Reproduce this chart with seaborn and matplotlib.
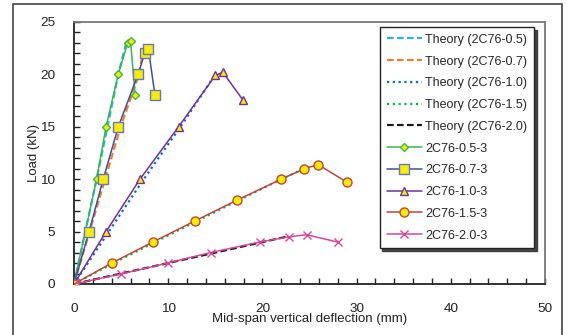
import matplotlib
matplotlib.use('Agg')
import matplotlib.pyplot as plt
import seaborn as sns
from matplotlib.patches import Rectangle
from matplotlib.ticker import MultipleLocator

# Theory curves (deflection mm, load kN)
th05_x = [0, 2.4, 4.7, 5.6]
th05_y = [0, 10, 20, 23.2]
th07_x = [0, 3.3, 4.95, 6.9, 7.3]
th07_y = [0, 10, 15, 20, 22.0]
th10_x = [0, 3.7, 7.4, 11.3, 15.0]
th10_y = [0, 5, 10, 15, 20]
th15_x = [0, 4.2, 8.6, 13.0, 17.5, 22.0, 24.4]
th15_y = [0, 2, 4, 6, 8, 10, 11]
th20_x = [0, 5.0, 10.0, 15.0, 20.0, 22.5]
th20_y = [0, 1.0, 2.0, 3.0, 4.0, 4.5]

# Test results
ex05_x = [0, 2.4, 3.4, 4.7, 5.7, 6.0, 6.5]
ex05_y = [0, 10, 15, 20, 23.0, 23.2, 18.0]
ex07_x = [0, 1.6, 3.1, 4.7, 6.8, 7.5, 7.9, 8.6]
ex07_y = [0, 5, 10, 15, 20, 22.0, 22.4, 18.0]
ex10_x = [0, 3.4, 7.0, 11.1, 15.0, 15.8, 17.9]
ex10_y = [0, 5, 10, 15, 19.9, 20.2, 17.6]
ex15_x = [0, 4.0, 8.35, 12.8, 17.3, 22.0, 24.45, 25.9, 29.0]
ex15_y = [0, 2.0, 4.0, 6.0, 8.0, 10.0, 11.0, 11.4, 9.7]
ex20_x = [0, 4.95, 9.95, 14.5, 19.7, 22.8, 24.7, 28.0]
ex20_y = [0, 0.95, 2.0, 3.0, 4.0, 4.5, 4.7, 4.0]

sns.set_style("ticks")
plt.rcParams['font.family'] = ['Liberation Sans', 'DejaVu Sans']

fig = plt.figure(figsize=(5.74, 3.35), dpi=100)
ax = fig.add_axes([74 / 574, 1 - 284 / 335, (545 - 74) / 574, (284 - 22) / 335])

theory = [
    (th05_x, th05_y, "Theory (2C76-0.5)", "#29b0e6", (0, (3, 1.5))),
    (th07_x, th07_y, "Theory (2C76-0.7)", "#ed7d31", (0, (3, 1.5))),
    (th10_x, th10_y, "Theory (2C76-1.0)", "#0a6cc4", (0, (1, 1.6))),
    (th15_x, th15_y, "Theory (2C76-1.5)", "#12b04c", (0, (1, 1.6))),
    (th20_x, th20_y, "Theory (2C76-2.0)", "#1a1a1a", (0, (3, 1.5))),
]
for xs, ys, lab, col, ls in theory:
    sns.lineplot(x=xs, y=ys, ax=ax, color=col, linestyle=ls, linewidth=1.6,
                 sort=False, estimator=None, label=lab, zorder=2)

tests = [
    (ex05_x, ex05_y, "2C76-0.5-3", "#3cb550", "D", 4.5, "#3cb550"),
    (ex07_x, ex07_y, "2C76-0.7-3", "#3d4fa3", "s", 6.5, "#6477c0"),
    (ex10_x, ex10_y, "2C76-1.0-3", "#7030a0", "^", 6, "#7030a0"),
    (ex15_x, ex15_y, "2C76-1.5-3", "#c0463a", "o", 6.5, "#c0463a"),
    (ex20_x, ex20_y, "2C76-2.0-3", "#d9449f", "x", 6, "#d9449f"),
]
for xs, ys, lab, col, mk, ms, ec in tests:
    sns.lineplot(x=xs, y=ys, ax=ax, color=col, linewidth=1.1, marker=mk,
                 markersize=ms, markerfacecolor="#f8ec00" if mk != "x" else col,
                 markeredgecolor=ec, markeredgewidth=1.0,
                 sort=False, estimator=None, label=lab, zorder=3)

ax.set_xlim(0, 50)
ax.set_ylim(0, 25)
ax.xaxis.set_major_locator(MultipleLocator(10))
ax.xaxis.set_minor_locator(MultipleLocator(2))
ax.yaxis.set_major_locator(MultipleLocator(5))
ax.yaxis.set_minor_locator(MultipleLocator(1))
ax.tick_params(which='both', direction='in', length=4, width=1, color='#222222',
               top=False, right=False)
ax.tick_params(which='major', labelsize=9.7, pad=13.5, labelcolor='#222222')
for s in ax.spines.values():
    s.set_visible(True)
    s.set_color('#222222')
    s.set_linewidth(1.3)
ax.spines['right'].set_color('#777777')
ax.spines['top'].set_color('#777777')

ax.set_xlabel("Mid-span vertical deflection (mm)", fontsize=9.5, labelpad=-1, color='#222222')
ax.set_ylabel("Load (kN)", fontsize=9.5, labelpad=0, color='#222222')

leg = ax.legend(loc='upper right', bbox_to_anchor=(0.977, 0.981), borderaxespad=0,
                fontsize=9, frameon=True, fancybox=False,
                shadow={'color': '#333333', 'alpha': 0.9},
                handlelength=2.8, handletextpad=0.3, labelspacing=0.78,
                borderpad=0.55)
leg.get_frame().set_edgecolor('#222222')
leg.get_frame().set_linewidth(1.0)
leg.get_frame().set_alpha(1)

# outer frame around the figure
fig.add_artist(Rectangle((13 / 574, -0.2), (562 - 13) / 574, 1.2 - 4 / 335,
                         transform=fig.transFigure, fill=False,
                         edgecolor='#444444', linewidth=1.2))

fig.savefig("out.png", dpi=100)
